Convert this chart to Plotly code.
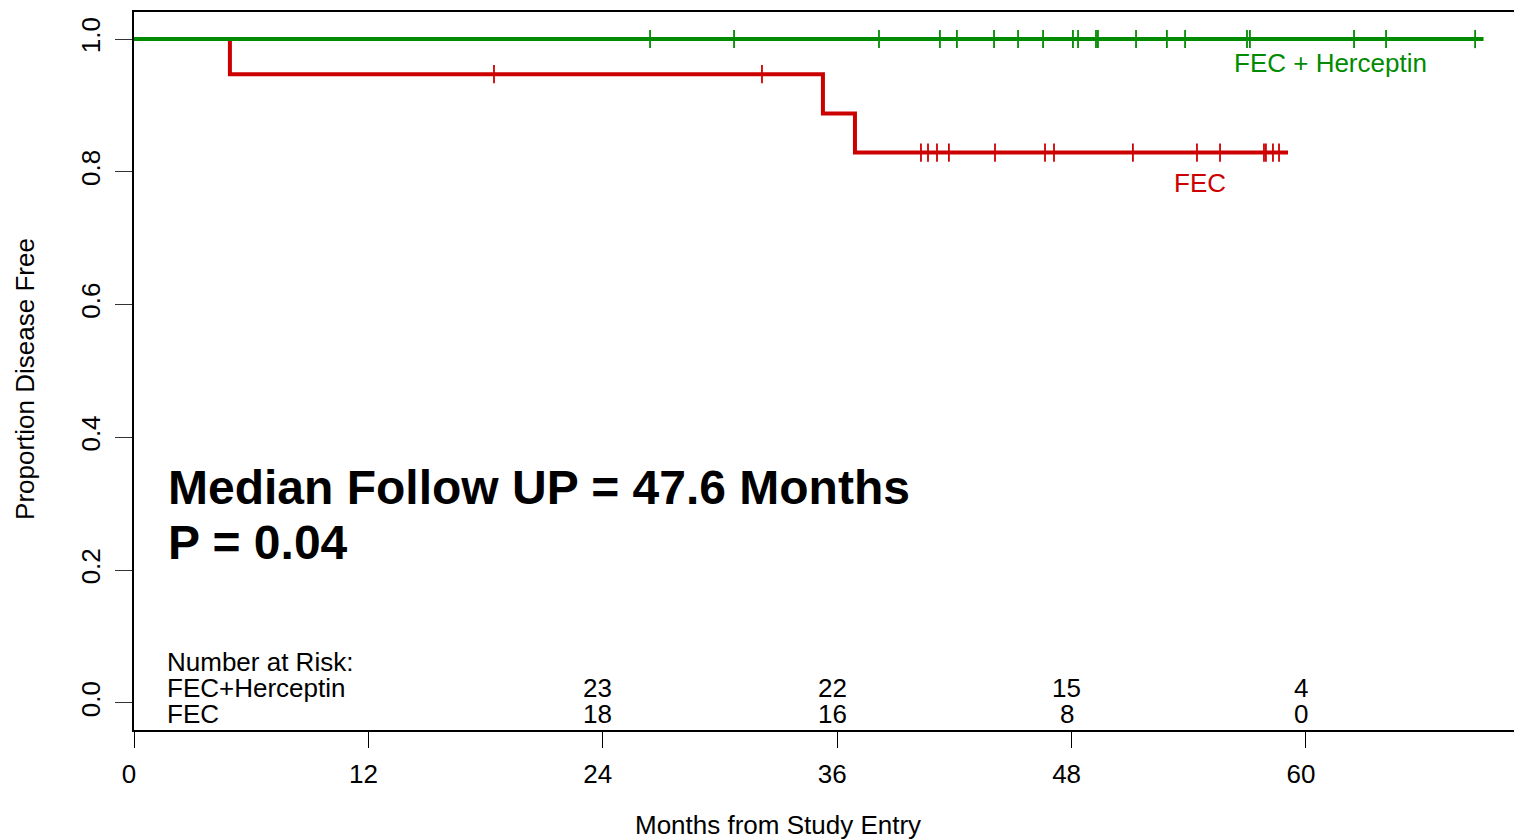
import plotly.graph_objects as go
import numpy as np

# ---- data ----
fec_event_times = [0.0, 4.91, 35.27, 36.91]
fec_surv = [1.0, 0.947, 0.888, 0.829]
fec_last_time = 59.08
fec_censor_times = [18.43, 32.15, 40.29, 40.65, 41.11, 41.72, 44.08, 46.64, 47.10,
                    51.14, 54.42, 55.60, 57.85, 57.95, 58.31, 58.62]

her_event_times = [0.0]
her_surv = [1.0]
her_last_time = 69.09
her_censor_times = [26.42, 30.72, 38.14, 41.26, 42.13, 44.03, 45.26, 46.54, 48.07,
                    48.33, 49.25, 49.35, 51.30, 52.88, 53.81, 56.98, 57.13, 62.46,
                    64.10, 68.66]

risk_times = [24, 36, 48, 60]
risk_her = [23, 22, 15, 4]
risk_fec = [18, 16, 8, 0]

x_ticks = [0, 12, 24, 36, 48, 60]
y_ticks = [0.0, 0.2, 0.4, 0.6, 0.8, 1.0]
y_ticktext = ["0.0", "0.2", "0.4", "0.6", "0.8", "1.0"]

RED = "#CD0000"
GREEN = "#008B00"
FONT = "Liberation Sans, Arial, Helvetica, sans-serif"
FS = 26


def step_value(times, surv, t):
    idx = np.searchsorted(np.array(times), t, side="right") - 1
    return surv[max(idx, 0)]


fig = go.Figure()

for times, surv, last, cens, col in [
    (fec_event_times, fec_surv, fec_last_time, fec_censor_times, RED),
    (her_event_times, her_surv, her_last_time, her_censor_times, GREEN),
]:
    xs = list(times) + [last]
    ys = list(surv) + [surv[-1]]
    fig.add_trace(go.Scatter(x=xs, y=ys, mode="lines", line=dict(color=col, width=4, shape="hv"),
                             hoverinfo="skip", showlegend=False))
    cy = [step_value(times, surv, t) for t in cens]
    fig.add_trace(go.Scatter(x=cens, y=cy, mode="markers",
                             marker=dict(symbol="line-ns", size=13, line=dict(color=col, width=1.8)),
                             hoverinfo="skip", showlegend=False))

ann = []
# curve labels
ann.append(dict(x=61.23, y=0.964, text="FEC + Herceptin", showarrow=False,
                font=dict(color=GREEN, size=FS, family=FONT), xanchor="center", yanchor="middle"))
ann.append(dict(x=54.57, y=0.783, text="FEC", showarrow=False,
                font=dict(color=RED, size=FS, family=FONT), xanchor="center", yanchor="middle"))
# bold text
ann.append(dict(x=1.62, y=0.325, text="<b>Median Follow UP = 47.6 Months</b>", showarrow=False,
                font=dict(color="black", size=48, family=FONT), xanchor="left", yanchor="middle"))
ann.append(dict(x=1.62, y=0.241, text="<b>P = 0.04</b>", showarrow=False,
                font=dict(color="black", size=48, family=FONT), xanchor="left", yanchor="middle"))
# risk table
for txt, yv in [("Number at Risk:", 0.0617), ("FEC+Herceptin", 0.0226), ("FEC", -0.0166)]:
    ann.append(dict(x=1.6, y=yv, text=txt, showarrow=False,
                    font=dict(color="black", size=FS, family=FONT), xanchor="left", yanchor="middle"))
for t, a, b in zip(risk_times, risk_her, risk_fec):
    ann.append(dict(x=t, y=0.0226, text=str(a), showarrow=False, xshift=-5,
                    font=dict(color="black", size=FS, family=FONT), xanchor="center", yanchor="middle"))
    ann.append(dict(x=t, y=-0.0166, text=str(b), showarrow=False, xshift=-5,
                    font=dict(color="black", size=FS, family=FONT), xanchor="center", yanchor="middle"))
# axis titles (placed as in the reference)
ann.append(dict(xref="paper", yref="paper", x=0.4667, y=-0.1323, text="Months from Study Entry",
                showarrow=False, font=dict(color="black", size=FS, family=FONT),
                xanchor="center", yanchor="middle"))
ann.append(dict(xref="paper", yref="paper", x=-0.079, y=0.4889, text="Proportion Disease Free",
                showarrow=False, textangle=-90, font=dict(color="black", size=FS, family=FONT),
                xanchor="center", yanchor="middle"))

fig.update_layout(
    width=1514, height=839,
    margin=dict(l=134, r=0, t=12, b=109),
    plot_bgcolor="white", paper_bgcolor="white",
    font=dict(family=FONT, size=FS, color="black"),
    annotations=ann,
    xaxis=dict(range=[0, 70.65], tickvals=x_ticks, ticktext=[str(v) for v in x_ticks],
               ticks="outside", ticklen=16, tickwidth=1, tickcolor="black",
               showline=True, linecolor="black", linewidth=1.5, mirror=True,
               showgrid=False, zeroline=False,
               tickfont=dict(size=FS, family=FONT), ticklabelstandoff=4, ticklabelshift=-5),
    yaxis=dict(range=[-0.0407, 1.0407], tickvals=y_ticks, ticktext=y_ticktext, tickangle=-90,
               ticks="outside", ticklen=17, tickwidth=1, tickcolor="#333333",
               showline=True, linecolor="black", linewidth=1.5,
               showgrid=False, zeroline=False,
               tickfont=dict(size=FS, family=FONT), ticklabelstandoff=5),
)

fig.write_html("out.html", config={"displayModeBar": False},
               post_script="document.body.style.margin='0';document.body.style.overflow='hidden';")
